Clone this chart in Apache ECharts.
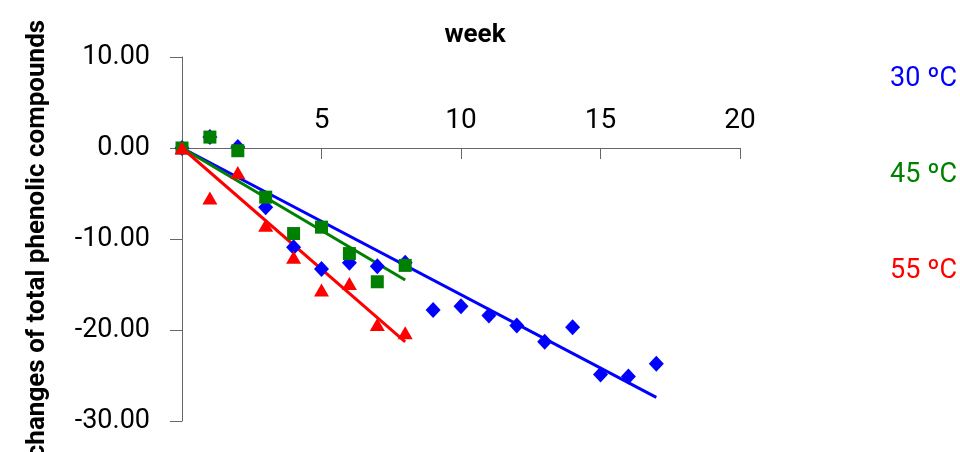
<!DOCTYPE html>
<html>
<head>
<meta charset="utf-8">
<script src="https://cdn.jsdelivr.net/npm/echarts@6/dist/echarts.min.js"></script>
<style>html,body{margin:0;padding:0;background:#fff}#c{width:960px;height:452px}</style>
</head>
<body>
<div id="c"></div>
<script>
var FONT = 'Roboto, "Liberation Sans", sans-serif';
var seriesNames = ['30 ºC', '45 ºC', '55 ºC'];
var seriesColors = ['#0000FF', '#008000', '#FF0000'];
var weeks30 = [0,1,2,3,4,5,6,7,8,9,10,11,12,13,14,15,16,17];
var values30 = [0,1.2,0.1,-6.5,-10.9,-13.3,-12.6,-13.0,-12.6,-17.8,-17.4,-18.4,-19.5,-21.3,-19.7,-24.9,-25.1,-23.7];
var weeks45 = [0,1,2,3,4,5,6,7,8];
var values45 = [0,1.2,-0.3,-5.4,-9.4,-8.7,-11.6,-14.7,-12.9];
var weeks55 = [0,1,2,3,4,5,6,7,8];
var values55 = [0,-5.5,-2.7,-8.5,-12.0,-15.6,-14.9,-19.4,-20.3];
// trend line end points [week, value]
var trend30 = [[0,0],[17,-27.4]];
var trend45 = [[0,0],[8,-14.5]];
var trend55 = [[0,0],[8,-21.3]];
var xTicks = [5,10,15,20];
var yMin = -30, yMax = 10;

function pairs(w, v){ return w.map(function(x,i){return [x, v[i]];}); }

var gridTop = 57, gridBottom = 31, H = 452;
// distance from the grid top down to the zero line, via the y scale
var zeroOffset = (H - gridTop - gridBottom) * (yMax - 0) / (yMax - yMin);

var chart = echarts.init(document.getElementById('c'));
chart.setOption({
  animation: false,
  backgroundColor: '#fff',
  title: {
    text: 'week', left: 470, top: 17, textAlign: 'center',
    textStyle: {fontFamily: FONT, fontSize: 26, fontWeight: 'bold', color: '#000'}
  },
  legend: {
    orient: 'vertical', right: 3, top: 66, itemGap: 69, padding: 0,
    icon: 'none', itemWidth: 0, itemHeight: 0,
    selectedMode: false,
    data: seriesNames.map(function(n, i){
      return {name: n, textStyle: {color: seriesColors[i], fontFamily: FONT, fontSize: 27}};
    })
  },
  grid: {left: 182, right: 220, top: gridTop, bottom: gridBottom, containLabel: false, outerBoundsMode: 'none'},
  xAxis: {
    type: 'value', min: 0, max: 20, interval: 5, position: 'top', offset: -zeroOffset,
    axisLine: {onZero: false, lineStyle: {color: '#666', width: 1}},
    axisTick: {inside: true, length: 11, lineStyle: {color: '#666'}},
    axisLabel: {
      margin: 13, color: '#000', fontFamily: FONT, fontSize: 28,
      formatter: function(v){ return xTicks.indexOf(v) >= 0 ? String(v) : ''; }
    },
    splitLine: {show: false}
  },
  yAxis: {
    type: 'value', min: yMin, max: yMax, interval: 10,
    name: 'changes of total phenolic compounds', nameLocation: 'middle', nameGap: 132, nameRotate: 90,
    nameTextStyle: {fontFamily: FONT, fontSize: 26, fontWeight: 'bold', color: '#000'},
    axisLine: {show: true, onZero: false, lineStyle: {color: '#666', width: 1}},
    axisTick: {show: true, inside: false, length: 12, lineStyle: {color: '#666'}},
    axisLabel: {
      margin: 32, color: '#000', fontFamily: FONT, fontSize: 27,
      formatter: function(v){ return v.toFixed(2); }
    },
    splitLine: {show: false}
  },
  series: [
    {name: seriesNames[0], type: 'line', data: trend30, symbol: 'none', lineStyle: {color: seriesColors[0], width: 3}, itemStyle:{color: seriesColors[0]}, z: 2},
    {name: seriesNames[1], type: 'line', data: trend45, symbol: 'none', lineStyle: {color: seriesColors[1], width: 3}, itemStyle:{color: seriesColors[1]}, z: 2},
    {name: seriesNames[2], type: 'line', data: trend55, symbol: 'none', lineStyle: {color: seriesColors[2], width: 3}, itemStyle:{color: seriesColors[2]}, z: 2},
    {name: seriesNames[0], type: 'scatter', data: pairs(weeks30, values30), symbol: 'diamond', symbolSize: [15, 16], itemStyle: {color: seriesColors[0], opacity: 1}, z: 3},
    {name: seriesNames[1], type: 'scatter', data: pairs(weeks45, values45), symbol: 'rect', symbolSize: 13, itemStyle: {color: seriesColors[1], opacity: 1}, z: 4},
    {name: seriesNames[2], type: 'scatter', data: pairs(weeks55, values55), symbol: 'triangle', symbolSize: [15, 13], itemStyle: {color: seriesColors[2], opacity: 1}, z: 5}
  ]
});
</script>
</body>
</html>
